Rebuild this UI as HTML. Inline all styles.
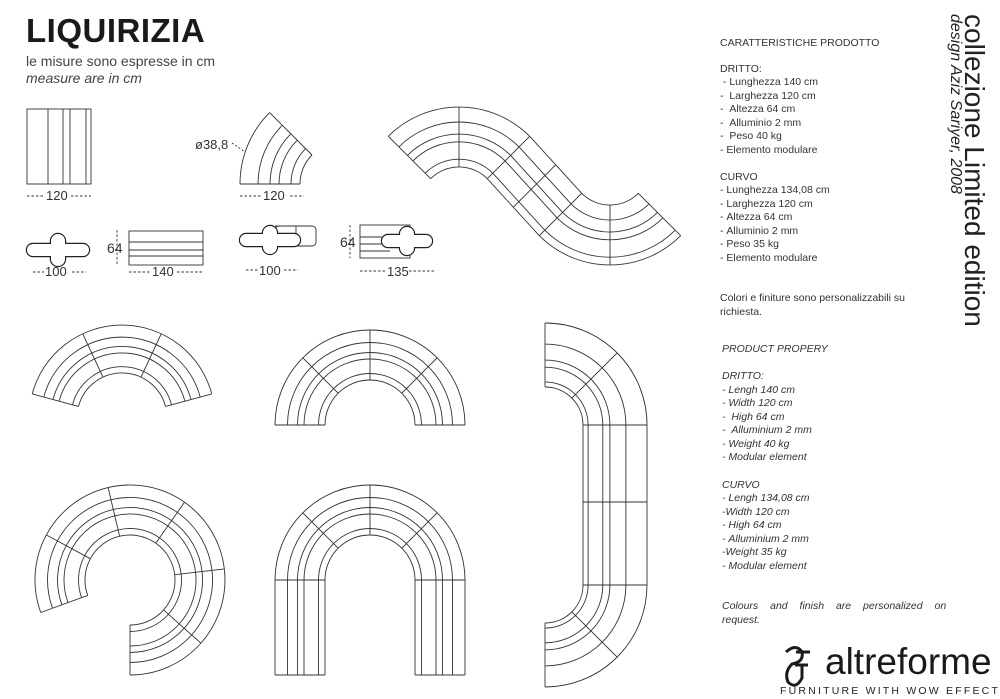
<!DOCTYPE html>
<html><head><meta charset="utf-8">
<style>
html,body{margin:0;padding:0;background:#fff;}
body{width:1000px;height:699px;position:relative;overflow:hidden;font-family:"Liberation Sans",sans-serif;color:#333;}
.t{position:absolute;white-space:nowrap;font-size:10.5px;line-height:1;}
.i{font-style:italic;}
svg{position:absolute;left:0;top:0;}
</style></head><body>
<div class="t" style="left:26px;top:14px;font-size:33px;font-weight:bold;color:#1a1a1a;letter-spacing:0.5px">LIQUIRIZIA</div>
<div class="t" style="left:26px;top:54px;font-size:14px;color:#444">le misure sono espresse in cm</div>
<div class="t i" style="left:26px;top:71px;font-size:14px;color:#444">measure are in cm</div>

<div id="txt"></div>

<div class="t" style="left:988px;top:14px;font-size:28px;color:#222;transform-origin:0 0;transform:rotate(90deg)">collezione Limited edition</div>
<div class="t i" style="left:963px;top:14px;font-size:16px;color:#222;transform-origin:0 0;transform:rotate(90deg)">design Aziz Sariyer, 2008</div>

<div class="t i" style="left:722px;top:601px;font-size:10.5px;word-spacing:9px">Colours and finish are personalized on</div>
<div class="t i" style="left:722px;top:615px;font-size:10.5px">request.</div>

<div class="t" style="left:825px;top:643px;font-size:37px;color:#1a1a1a">altreforme</div>
<div class="t" style="left:780px;top:686px;font-size:10.5px;letter-spacing:2.2px;color:#222">FURNITURE WITH WOW EFFECT</div>

<svg id="s" width="1000" height="699" viewBox="0 0 1000 699" fill="none" stroke="#333" stroke-width="0.9"></svg>
<script>
var S=document.getElementById('s');var out='';
function P(cx,cy,r,a){a=a*Math.PI/180;return [cx+r*Math.cos(a),cy-r*Math.sin(a)];}
function L(a,b){out+='<line x1="'+a[0].toFixed(1)+'" y1="'+a[1].toFixed(1)+'" x2="'+b[0].toFixed(1)+'" y2="'+b[1].toFixed(1)+'"/>';}
function A(cx,cy,r,a0,a1){var p=P(cx,cy,r,a0),q=P(cx,cy,r,a1);var la=(a1-a0)>180?1:0;
out+='<path d="M'+p[0].toFixed(1)+' '+p[1].toFixed(1)+' A'+r+' '+r+' 0 '+la+' 0 '+q[0].toFixed(1)+' '+q[1].toFixed(1)+'"/>';}
var F=[0,.13,.42,.55,.75,1];
function band(cx,cy,r0,r1,a0,a1,divs,fr){fr=fr||F;fr.forEach(function(f){A(cx,cy,r0+(r1-r0)*f,a0,a1);});
[a0,a1].concat(divs||[]).forEach(function(a){L(P(cx,cy,r0,a),P(cx,cy,r1,a));});}
band(122,418,45,93,15,165,[65,115]);
band(370,425,45,95,0,180,[45,90,135]);
band(130,580,45,95,-90,200,[-41.7,6.7,55,103.3,151.7]);
band(370,580,45,95,0,180,[45,90,135]);
F.forEach(function(f){var r=45+50*f;L([370-r,580],[370-r,675]);L([370+r,580],[370+r,675]);});
L([275,675],[325,675]);L([415,675],[465,675]);
var G=[0,.08,.31,.42,.67,1];
band(545,425,38,102,0,90,[45],G);
band(545,585,38,102,-90,0,[-45],G);
G.forEach(function(f){var x=545+38+64*f;L([x,425],[x,585]);});
L([583,502],[647,502]);
band(459,207,40,100,45,135,[90]);
var Fr=F.map(function(f){return 1-f;});
band(610,165,40,100,225,315,[270],Fr);
F.forEach(function(f){var p=P(459,207,40+60*f,45),q=P(610,165,40+60*(1-f),225);L(p,q);});
var p0=P(459,207,40,45),q0=P(610,165,100,225),p1=P(459,207,100,45),q1=P(610,165,40,225);
L([(p0[0]+q0[0])/2,(p0[1]+q0[1])/2],[(p1[0]+q1[0])/2,(p1[1]+q1[1])/2]);
out+='<rect x="27" y="109" width="64" height="75"/>';
[48,63,70,86].forEach(function(x){L([x,109],[x,184]);});
band(341,184,41,101,135,180,[],[0,.15,.35,.5,.7,1]);
out+='<path d="M232 143 L245 152" stroke-dasharray="2 2"/>';
function dash(x1,x2,y){out+='<line x1="'+x1+'" y1="'+y+'" x2="'+x2+'" y2="'+y+'" stroke-dasharray="2.5 2"/>';}
dash(27,44,196);dash(71,91,196);dash(240,262,196);dash(290,304,196);
dash(33,44,272);dash(72,86,272);dash(129,151,272);dash(177,203,272);
dash(246,258,270);dash(284,298,270);dash(360,386,271);dash(409,435,271);
out+='<line x1="117" y1="230" x2="117" y2="265" stroke-dasharray="2.5 2"/>';
out+='<line x1="350" y1="225" x2="350" y2="258" stroke-dasharray="2.5 2"/>';
out+='<rect x="129" y="231" width="74" height="34"/>';L([129,242],[203,242]);L([129,250],[203,250]);L([129,256],[203,256]);
out+='<rect x="360" y="225" width="50" height="33"/>';L([360,237],[390,237]);L([360,244],[390,244]);L([360,251],[390,251]);
function cross(cx,cy,hw,hh,vw,vh){var s='';
s+='<rect x="'+(cx-hw)+'" y="'+(cy-hh)+'" width="'+2*hw+'" height="'+2*hh+'" rx="'+hh+'"/>';
s+='<rect x="'+(cx-vw)+'" y="'+(cy-vh)+'" width="'+2*vw+'" height="'+2*vh+'" rx="'+vw+'"/>';
out+='<g stroke="#222" stroke-width="2.4">'+s+'</g><g fill="#fff" stroke="none">'+s+'</g>';}
out+='<rect x="275" y="226" width="41" height="20" rx="4"/>';out+='<path d="M275 226 L296 226 L296 246"/>';
cross(58,250,31,6,7,16);
cross(270,240,30,6,7,14);
cross(407,241,25,6,7,14);
out+='<g stroke="#1a1a1a" stroke-width="3"><path d="M786 652 Q796 643 802 652 Q804 662 792 664 Q784 672 788 682 Q796 690 802 678 L802 664"/><line x1="795" y1="665" x2="808" y2="665"/><line x1="796" y1="652" x2="810" y2="652"/></g>';
function T(x,y,s,fs){out+='<text x="'+x+'" y="'+y+'" font-family="Liberation Sans, sans-serif" font-size="'+fs+'" fill="#333" stroke="none">'+s+'</text>';}
T(46,200,'120',13);T(263,200,'120',13);T(195,149,'ø38,8',13);
T(45,276,'100',13);T(152,276,'140',13);T(259,275,'100',13);T(387,276,'135',13);
T(107,253,'64',14);T(340,247,'64',14);
S.innerHTML=out;
var lines=[[47,'CARATTERISTICHE PRODOTTO'],[73,'DRITTO:'],[86,' - Lunghezza 140 cm'],[100,'-  Larghezza 120 cm'],[113,'-  Altezza 64 cm'],[127,'-  Alluminio 2 mm'],[140,'-  Peso 40 kg'],[154,'- Elemento modulare'],
[181,'CURVO'],[194,'- Lunghezza 134,08 cm'],[208,'- Larghezza 120 cm'],[221,'- Altezza 64 cm'],[235,'- Alluminio 2 mm'],[248,'- Peso 35 kg'],[262,'- Elemento modulare'],
[302,'Colori e finiture sono personalizzabili su'],[316,'richiesta.']];
var il=[[353,'PRODUCT PROPERY'],[380,'DRITTO:'],[394,'- Lengh 140 cm'],[407,'- Width 120 cm'],[421,'-  High 64 cm'],[434,'-  Alluminium 2 mm'],[448,'- Weight 40 kg'],[461,'- Modular element'],
[489,'CURVO'],[502,'- Lengh 134,08 cm'],[516,'-Width 120 cm'],[529,'- High 64 cm'],[543,'- Alluminium 2 mm'],[556,'-Weight 35 kg'],[570,'- Modular element']];
var h='';lines.forEach(function(l){h+='<div class="t" style="left:720px;top:'+(l[0]-9)+'px">'+l[1].replace(/ /g,'&nbsp;')+'</div>';});
il.forEach(function(l){h+='<div class="t i" style="left:722px;top:'+(l[0]-9)+'px">'+l[1].replace(/ /g,'&nbsp;')+'</div>';});
document.getElementById('txt').innerHTML=h;
</script>
</body></html>
